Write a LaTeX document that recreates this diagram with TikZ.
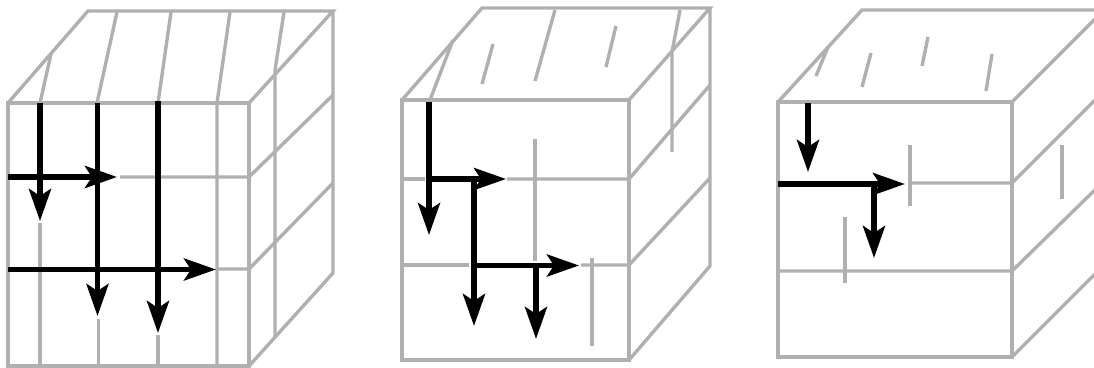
\documentclass[tikz,border=0pt]{standalone}
\usetikzlibrary{arrows.meta}
\definecolor{gridgrey}{RGB}{176,176,176}
\tikzset{
  gridline/.style={draw=gridgrey,line width=3.4pt,line join=miter},
  flow/.style={draw=black,line width=5.5pt,-{Stealth[length=32pt,width=22pt,inset=7pt]}}
}
\begin{document}
\begin{tikzpicture}[x=1pt,y=-1pt]
\useasboundingbox (0,0) rectangle (1094,367);
\clip (0,0) rectangle (1094,367);
% cube 1
\draw[gridline] (8,103) rectangle (249,366);
\draw[gridline] (8,103) -- (88,11) -- (333,11) -- (249,103);
\draw[gridline] (333,11) -- (333,273) -- (249,366);
\draw[gridline] (120,177) -- (249,177) -- (333,95);
\draw[gridline] (216,269) -- (249,269) -- (333,183);
\draw[gridline] (40,103) -- (51,54);
\draw[gridline] (97,103) -- (117,12);
\draw[gridline] (158,103) -- (171,12);
\draw[gridline] (217,366) -- (217,103) -- (230,12);
\draw[gridline] (275,337) -- (275,70) -- (284,12);
\draw[gridline] (40,223) -- (40,366);
\draw[gridline] (98.5,319) -- (98.5,366);
\draw[gridline] (158,335) -- (158,366);
\draw[flow] (40,103) -- (40,221);
\draw[flow] (97.5,103) -- (97.5,316);
\draw[flow] (158,101) -- (158,333);
\draw[flow] (8,177) -- (117,177);
\draw[flow] (8,269.5) -- (216,269.5);
% cube 2
\draw[gridline] (402,100) rectangle (629,360);
\draw[gridline] (402,100) -- (482,8) -- (710,8) -- (629,100);
\draw[gridline] (710,8) -- (710,266) -- (629,360);
\draw[gridline] (507,179) -- (629,179) -- (710,85);
\draw[gridline] (581,265) -- (629,265) -- (710,178);
\draw[gridline] (402,179) -- (425,179);
\draw[gridline] (402,265) -- (469,265);
\draw[gridline] (430,100) -- (453,40);
\draw[gridline] (482,84) -- (493,44);
\draw[gridline] (535,81) -- (555,10);
\draw[gridline] (606,67) -- (616,26);
\draw[gridline] (672,152) -- (672,52) -- (680,10);
\draw[gridline] (535,139) -- (535,261);
\draw[gridline] (592,258) -- (592,346);
\draw[flow] (429,102) -- (429,235);
\draw[flow] (427,179) -- (506,179);
\draw[flow] (474,179) -- (474,326);
\draw[flow] (472,265.5) -- (579,265.5);
\draw[flow] (536,265) -- (536,339);
% cube 3
\draw[gridline] (778,102) rectangle (1012,357);
\draw[gridline] (778,102) -- (862,10) -- (1104,10) -- (1012,102);
\draw[gridline] (1012,357) -- (1104,265);
\draw[gridline] (910,183) -- (1012,183) -- (1104,91);
\draw[gridline] (778,271) -- (1012,271) -- (1104,181);
\draw[gridline] (816,76) -- (828,47);
\draw[gridline] (862,87) -- (871,53);
\draw[gridline] (922,66) -- (928,37);
\draw[gridline] (986,91) -- (992,54);
\draw[gridline] (910,145) -- (910,206);
\draw[gridline] (845,217) -- (845,283);
\draw[gridline] (1062,145) -- (1062,199);
\draw[flow] (808,103) -- (808,172);
\draw[flow] (778,184) -- (905,184);
\draw[flow] (874,184) -- (874,258);
\end{tikzpicture}
\end{document}
